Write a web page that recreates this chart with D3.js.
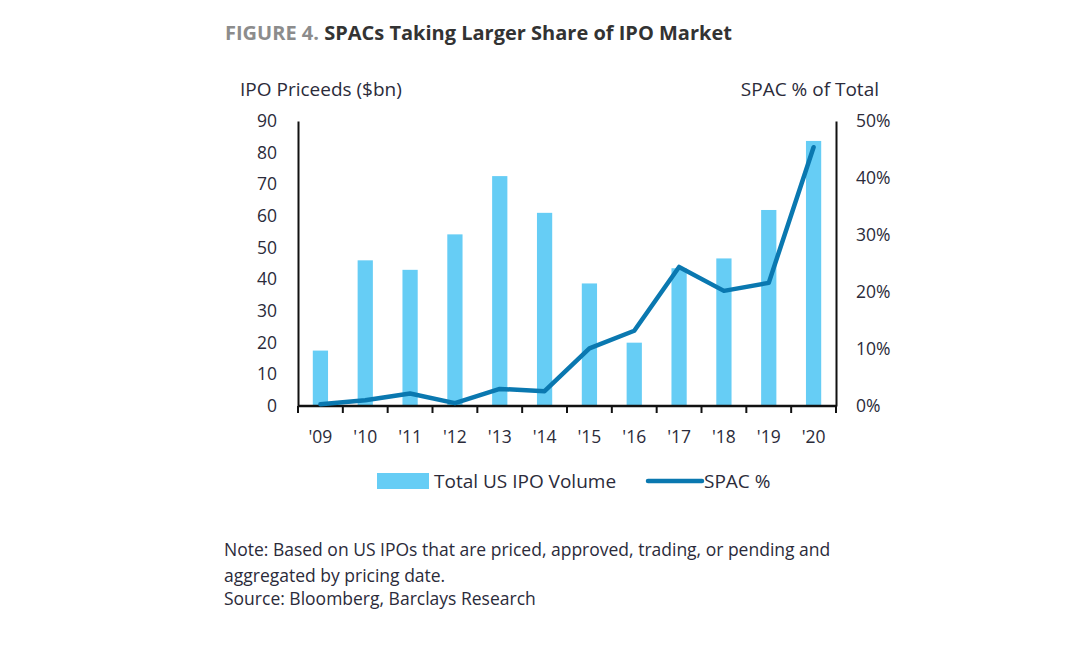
<!DOCTYPE html>
<html>
<head>
<meta charset="utf-8">
<script src="https://cdn.jsdelivr.net/npm/d3@7"></script>
<style>
  html, body { margin: 0; padding: 0; background: #ffffff; }
  svg { display: block; }
  text { font-family: "Open Sans", sans-serif; }
</style>
</head>
<body>
<div id="chart"></div>
<script>
const years = ["'09","'10","'11","'12","'13","'14","'15","'16","'17","'18","'19","'20"];
const ipoVolume = [17.5, 46, 43, 54.2, 72.6, 61, 38.7, 20, 43.5, 46.6, 61.9, 83.7];
const spacPct = [0.3, 1.0, 2.2, 0.5, 3.0, 2.6, 10.1, 13.2, 24.4, 20.2, 21.6, 45.4];
const leftTicks = [0, 10, 20, 30, 40, 50, 60, 70, 80, 90];
const rightTicks = [0, 10, 20, 30, 40, 50];

const W = 1077, H = 665;
const x0 = 298, x1 = 836, yTop = 121, yBot = 406;
const barColor = "#66cdf5", lineColor = "#0a78b0", textColor = "#2b2b3a";
const FONT = "'Open Sans', sans-serif";

const svg = d3.select("#chart").append("svg").attr("width", W).attr("height", H);

const x = d3.scaleBand().domain(years).range([x0, x1]).paddingInner(0).paddingOuter(0);
const yL = d3.scaleLinear().domain([0, 90]).range([yBot, yTop]);
const yR = d3.scaleLinear().domain([0, 50]).range([yBot, yTop]);

// Title
const title = svg.append("text").attr("x", 225).attr("y", 40)
  .attr("font-size", 20).attr("font-weight", "bold");
title.append("tspan").attr("fill", "#8c8c8c").text("FIGURE 4. ");
title.append("tspan").attr("fill", "#333333").text("SPACs Taking Larger Share of IPO Market");

// Axis titles
svg.append("text").attr("x", 240).attr("y", 96).attr("font-size", 19).attr("fill", textColor)
  .text("IPO Priceeds ($bn)");
svg.append("text").attr("x", 879).attr("y", 96).attr("font-size", 19).attr("fill", textColor)
  .attr("text-anchor", "end").text("SPAC % of Total");

// Bars
const bw = x.bandwidth() * 0.34;
svg.append("g").selectAll("rect").data(ipoVolume).join("rect")
  .attr("x", (d, i) => x(years[i]) + x.bandwidth() / 2 - bw / 2)
  .attr("width", bw)
  .attr("y", d => yL(d))
  .attr("height", d => yL(0) - yL(d))
  .attr("fill", barColor);

// Left axis
const gL = svg.append("g").attr("transform", `translate(${x0},0)`)
  .call(d3.axisLeft(yL).tickValues(leftTicks).tickSize(0).tickPadding(21));
gL.select(".domain").attr("stroke", "#111").attr("stroke-width", 2);
gL.selectAll("text").attr("font-size", 17.5).attr("fill", textColor).attr("font-family", FONT);

// Right axis
const gR = svg.append("g").attr("transform", `translate(${x1},0)`)
  .call(d3.axisRight(yR).tickValues(rightTicks).tickSize(0).tickPadding(20).tickFormat(d => d + "%"));
gR.select(".domain").attr("stroke", "#111").attr("stroke-width", 2);
gR.selectAll("text").attr("font-size", 17.5).attr("fill", textColor).attr("font-family", FONT);

// Bottom axis: ticks at band boundaries
const gB = svg.append("g").attr("transform", `translate(0,${yBot})`);
gB.append("line").attr("x1", x0).attr("x2", x1).attr("stroke", "#111").attr("stroke-width", 2.5);
const boundaries = years.map(y => x(y)).concat([x1]);
gB.selectAll("line.tk").data(boundaries).join("line").attr("class", "tk")
  .attr("x1", d => d).attr("x2", d => d).attr("y1", 0).attr("y2", 7)
  .attr("stroke", "#111").attr("stroke-width", 2);
gB.selectAll("text").data(years).join("text")
  .attr("x", d => x(d) + x.bandwidth() / 2).attr("y", 37)
  .attr("text-anchor", "middle").attr("font-size", 17.5).attr("fill", textColor)
  .text(d => d);

// Line
const line = d3.line()
  .x((d, i) => x(years[i]) + x.bandwidth() / 2)
  .y(d => yR(d));
svg.append("path").datum(spacPct).attr("d", line)
  .attr("fill", "none").attr("stroke", lineColor).attr("stroke-width", 4.5)
  .attr("stroke-linejoin", "round").attr("stroke-linecap", "round");

// Legend
svg.append("rect").attr("x", 377).attr("y", 473).attr("width", 52).attr("height", 16).attr("fill", barColor);
svg.append("text").attr("x", 434).attr("y", 488).attr("font-size", 19).attr("fill", textColor)
  .text("Total US IPO Volume");
svg.append("line").attr("x1", 648).attr("x2", 702).attr("y1", 481).attr("y2", 481)
  .attr("stroke", lineColor).attr("stroke-width", 4.5).attr("stroke-linecap", "round");
svg.append("text").attr("x", 704).attr("y", 488).attr("font-size", 19).attr("fill", textColor)
  .text("SPAC %");

// Notes
const notes = [
  "Note: Based on US IPOs that are priced, approved, trading, or pending and",
  "aggregated by pricing date.",
  "Source: Bloomberg, Barclays Research"
];
svg.append("g").selectAll("text").data(notes).join("text")
  .attr("x", 224).attr("y", (d, i) => [556, 582, 605][i])
  .attr("font-size", 17.5).attr("fill", textColor)
  .text(d => d);
</script>
</body>
</html>
